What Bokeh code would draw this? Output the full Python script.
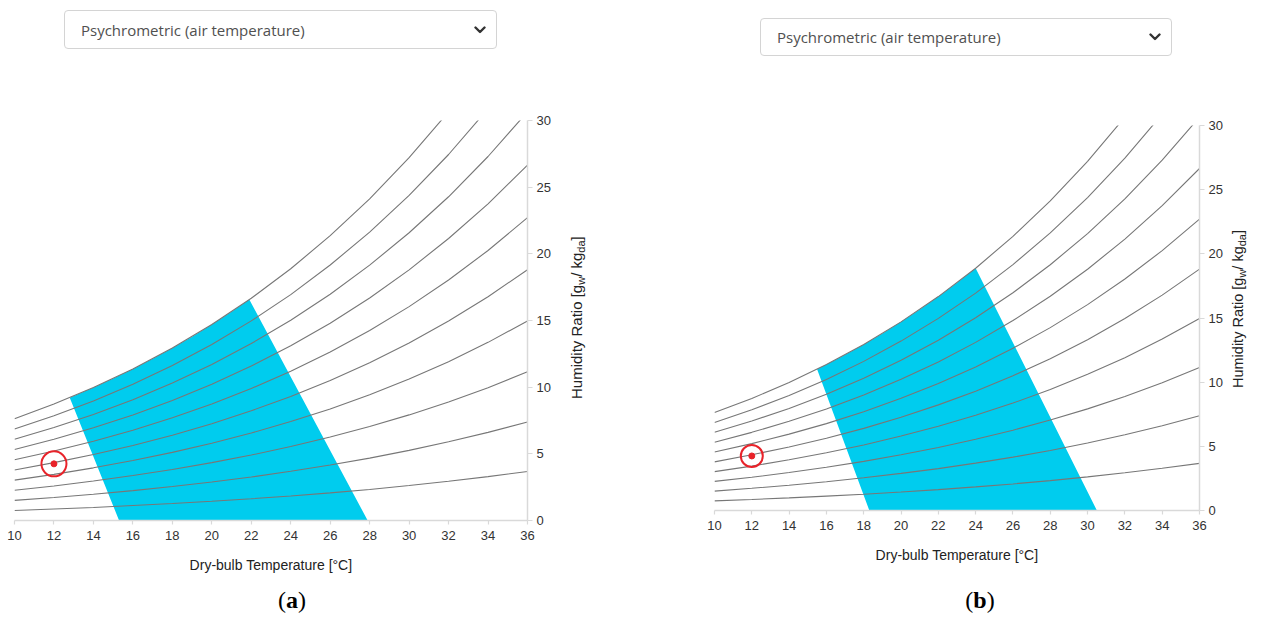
from bokeh.plotting import figure
from bokeh.layouts import row, column
from bokeh.models import Range1d, FixedTicker, Select, InlineStyleSheet, Div
from bokeh.embed import file_html
from bokeh.resources import INLINE

# ------------------------------------------------------------------ data
# dry-bulb temperature [°C] at which the RH curves were read
temps = [10, 12, 14, 16, 18, 20, 22, 24, 26, 28, 30, 32, 34, 36]

# humidity ratio [g/kg] of the constant relative-humidity curves (10 % ... 100 %)
w_rh10 = [0.75, 0.86, 0.98, 1.12, 1.27, 1.44, 1.63, 1.84, 2.07, 2.33, 2.62, 2.94, 3.29, 3.67]
w_rh20 = [1.51, 1.73, 1.97, 2.24, 2.55, 2.89, 3.26, 3.69, 4.16, 4.68, 5.26, 5.90, 6.61, 7.39]
w_rh30 = [2.27, 2.59, 2.96, 3.37, 3.83, 4.34, 4.91, 5.55, 6.26, 7.05, 7.92, 8.89, 9.96, 11.15]
w_rh40 = [3.03, 3.46, 3.95, 4.50, 5.11, 5.80, 6.56, 7.42, 8.37, 9.43, 10.61, 11.91, 13.36, 14.96]
w_rh50 = [3.79, 4.34, 4.95, 5.63, 6.40, 7.26, 8.23, 9.30, 10.50, 11.83, 13.31, 14.96, 16.78, 18.81]
w_rh60 = [4.56, 5.21, 5.95, 6.77, 7.70, 8.74, 9.90, 11.19, 12.64, 14.25, 16.04, 18.04, 20.25, 22.71]
w_rh70 = [5.32, 6.09, 6.95, 7.91, 9.00, 10.22, 11.58, 13.10, 14.80, 16.69, 18.80, 21.15, 23.75, 26.65]
w_rh80 = [6.09, 6.97, 7.95, 9.06, 10.31, 11.70, 13.27, 15.02, 16.97, 19.15, 21.58, 24.28, 27.30, 30.65]
w_rh90 = [6.86, 7.85, 8.96, 10.21, 11.62, 13.20, 14.97, 16.94, 19.16, 21.63, 24.38, 27.45, 30.88, 34.69]
w_rh100 = [7.63, 8.73, 9.97, 11.37, 12.94, 14.70, 16.67, 18.88, 21.36, 24.12, 27.21, 30.65, 34.50, 38.79]
rh_curves = [w_rh10, w_rh20, w_rh30, w_rh40, w_rh50, w_rh60, w_rh70, w_rh80, w_rh90, w_rh100]

# comfort zone (a)
zone_a_t = [15.3, 12.8, 13, 14, 15, 16, 17, 18, 19, 20, 21, 21.9, 27.9]
zone_a_w = [0, 9.21, 9.33, 9.97, 10.65, 11.37, 12.13, 12.94, 13.79, 14.70, 15.66, 16.57, 0]
# comfort zone (b)
zone_b_t = [18.3, 15.5, 16, 17, 18, 19, 20, 21, 22, 23, 24, 30.5]
zone_b_w = [0, 11.0, 11.37, 12.13, 12.94, 13.79, 14.70, 15.66, 16.67, 17.74, 18.88, 0]

# current air state
point_t = [12]
point_w = [4.25]

x_ticks = [10, 12, 14, 16, 18, 20, 22, 24, 26, 28, 30, 32, 34, 36]
y_ticks = [0, 5, 10, 15, 20, 25, 30]

select_text = "Psychrometric (air temperature)"
x_title = "Dry-bulb Temperature [°C]"
y_title_parts = ["Humidity Ratio [g", "w", "/ kg", "da", "]"]
panel_tags = ["a", "b"]

# ------------------------------------------------------------------ style
CYAN = "#00CCEE"
CURVE = "#777777"
RED = "#e8232a"
AXIS = "#d9d9d9"
FONT = "Liberation Sans"

SELECT_CSS = """
select.bk-input {
  height: %dpx !important;
  min-height: %dpx !important;
  font-family: 'Open Sans', sans-serif !important;
  font-size: 15px !important;
  color: #505050 !important;
  padding: 0 36px 0 16px !important;
  border: 1px solid #d4d4d4 !important;
  border-radius: 4px !important;
  background-color: #ffffff !important;
  background-image: url("data:image/svg+xml;utf8,<svg xmlns='http://www.w3.org/2000/svg' viewBox='0 0 12 8'><path fill='none' stroke='%%23333333' stroke-width='2.4' stroke-linecap='round' stroke-linejoin='round' d='M1.5 1.5 L6 6 L10.5 1.5'/></svg>") !important;
  background-repeat: no-repeat !important;
  background-position: right 10px center !important;
  background-size: 12px 8px !important;
  box-shadow: none !important;
}
"""


def make_select(width, height, margin):
    return Select(options=[select_text], value=select_text, width=width, height=height,
                  margin=margin, stylesheets=[InlineStyleSheet(css=SELECT_CSS % (height, height))])


def make_panel(cfg, zone_t, zone_w):
    fw, fh = cfg["fw"], cfg["fh"]
    p = figure(width=cfg["bl"] + fw + cfg["br"], height=cfg["bt"] + fh + cfg["bb"],
               x_range=Range1d(10, 36), y_range=Range1d(0, 30), y_axis_location="right",
               output_backend="svg", toolbar_location=None, title=None,
               min_border_left=cfg["bl"], min_border_right=cfg["br"],
               min_border_top=cfg["bt"], min_border_bottom=cfg["bb"], margin=(0, 0, 0, 0))
    p.outline_line_color = None
    p.grid.visible = False
    p.background_fill_color = "white"
    p.border_fill_color = "white"

    for ax in (p.xaxis[0], p.yaxis[0]):
        ax.axis_line_color = AXIS
        ax.axis_line_width = 1.5
        ax.major_tick_line_color = AXIS
        ax.major_tick_line_width = 1.2
        ax.minor_tick_line_color = None
        ax.major_tick_in = 0
        ax.major_label_text_font = FONT
        ax.major_label_text_font_size = "13px"
        ax.major_label_text_color = "#333333"
    p.xaxis.ticker = FixedTicker(ticks=x_ticks)
    p.yaxis.ticker = FixedTicker(ticks=y_ticks)
    p.xaxis.major_tick_out = 4
    p.yaxis.major_tick_out = 5
    p.xaxis.major_label_standoff = 6
    p.yaxis.major_label_standoff = 4
    p.xaxis.axis_label = x_title
    p.xaxis.axis_label_text_font = FONT
    p.xaxis.axis_label_text_font_size = "14px"
    p.xaxis.axis_label_text_font_style = "normal"
    p.xaxis.axis_label_text_color = "#222222"
    p.xaxis.axis_label_standoff = 14

    # comfort zone, curves, point
    p.patch(zone_t, zone_w, fill_color=CYAN, line_color=None)
    for w in rh_curves:
        p.line(temps, w, line_color=CURVE, line_width=1.1)
    p.scatter(point_t, point_w, size=cfg["ring"], fill_color=None, line_color=RED, line_width=2)
    p.scatter(point_t, point_w, size=6, fill_color=RED, line_color=RED)
    return p


def make_ytitle(cfg):
    fs = cfg["yfs"]
    inner_h = 2 * (cfg["ycy"] - cfg["ftop"])
    txt = ("%s<sub style=\"font-size:%dpx\">%s</sub>%s<sub style=\"font-size:%dpx\">%s</sub>%s"
           % (y_title_parts[0], cfg["sfs"], y_title_parts[1], y_title_parts[2],
              cfg["sfs"], y_title_parts[3], y_title_parts[4]))
    html = ("<div style=\"writing-mode:vertical-rl; transform:rotate(180deg); width:18px; "
            "height:%dpx; line-height:18px; text-align:center; white-space:nowrap; "
            "font-family:'Liberation Sans'; font-size:%.1fpx; color:#222222;\">%s</div>"
            % (inner_h, fs, txt))
    return Div(text=html, width=cfg["yw"], height=inner_h + 4,
               margin=(cfg["bt"], 0, 0, cfg["yml"]))


def make_caption(tag, width, left):
    html = ("<div style=\"width:%dpx; height:32px; line-height:32px; text-align:center; "
            "font-family:'Liberation Serif'; font-size:24px; color:#000000;\">(<b>%s</b>)</div>"
            % (width, tag))
    return Div(text=html, width=width, height=32, margin=(0, 0, 0, left))


# geometry in page pixels
cfg_a = dict(fw=513, fh=400, bl=14, br=40, bt=71, bb=64, ring=25, ftop=120,
             yfs=15, sfs=11, ycy=318, yml=1, yw=40)
cfg_b = dict(fw=485, fh=385, bl=106, br=28, bt=69, bb=74, ring=22, ftop=125,
             yfs=14.5, sfs=11, ycy=309, yml=2, yw=28)

fig_a = make_panel(cfg_a, zone_a_t, zone_a_w)
fig_b = make_panel(cfg_b, zone_b_t, zone_b_w)

sel_a = make_select(433, 39, (10, 0, 0, 64))
sel_b = make_select(412, 38, (18, 0, 0, 152))

col_a = column(sel_a, row(fig_a, make_ytitle(cfg_a), spacing=0),
               make_caption(panel_tags[0], 60, 262), spacing=0)
col_b = column(sel_b, row(fig_b, make_ytitle(cfg_b), spacing=0),
               make_caption(panel_tags[1], 60, 342), spacing=0)

layout = row(col_a, col_b, spacing=0)

open("out.html", "w").write(file_html(layout, INLINE))
